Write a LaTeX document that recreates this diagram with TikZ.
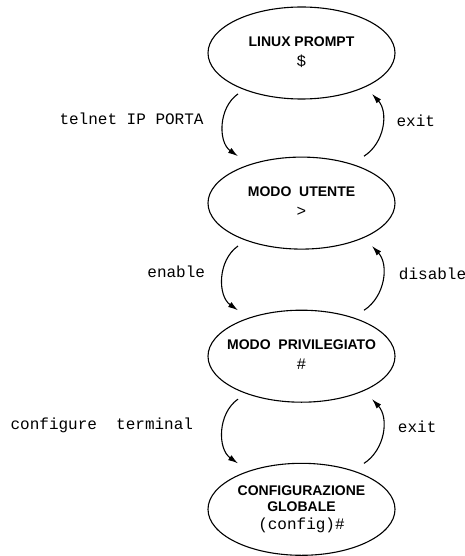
\documentclass[tikz,border=0pt]{standalone}
\usepackage{fontspec}
\setmainfont{Liberation Sans}
\setmonofont{Liberation Mono}
\usetikzlibrary{positioning,shapes.geometric,arrows.meta}
\newcommand*{\statetext}[3][4pt]{\makebox[0pt]{\begin{tabular}{@{}c@{}}#2\\[#1]\normalfont\ttfamily\fontsize{16}{18}\selectfont #3\end{tabular}}}

\begin{document}
\begin{tikzpicture}[
  state/.style={draw, ellipse, line width=1.1pt, minimum width=187pt, minimum height=92pt, inner sep=0pt, font=\fontsize{14}{16}\selectfont\bfseries},
  arc/.style={line width=1.1pt, -{Latex[length=10pt,width=6pt]}},
  lbl/.style={inner sep=0pt, yshift=6pt, font=\ttfamily\fontsize{16}{18}\selectfont}
]
\useasboundingbox (0pt,0pt) rectangle (465pt,-556pt);

\node (lp) [state] at (301.5pt,-53pt) {\statetext{LINUX PROMPT}{\$}};
\node (ut) [state, below=57pt of lp] {\statetext{MODO\ \ UTENTE}{>}};
\node (priv) [state, below=60pt of ut] {\statetext{MODO\ \ PRIVILEGIATO}{\#}};
\node (conf) [state, below=60pt of priv] {\statetext[2pt]{CONFIGURAZIONE\\GLOBALE}{(config)\#}};

% discesa
\draw[arc] ([shift={(3pt,-8pt)}]lp.south west) to[bend right=55] node[lbl, left=19pt] {telnet IP PORTA} ([shift={(3pt,14pt)}]ut.north west);
\draw[arc] ([shift={(3pt,-10pt)}]ut.south west) to[bend right=55] node[lbl, left=17pt] {enable} ([shift={(3pt,13pt)}]priv.north west);
\draw[arc] ([shift={(3pt,-10pt)}]priv.south west) to[bend right=55] node[lbl, left=29pt] {configure\ \ terminal} ([shift={(3pt,13pt)}]conf.north west);

% risalita
\draw[arc] ([shift={(-4pt,14pt)}]ut.north east) to[bend right=50] node[lbl, right=14pt] {exit} ([shift={(4pt,-8pt)}]lp.south east);
\draw[arc] ([shift={(-4pt,13pt)}]priv.north east) to[bend right=50] node[lbl, right=16pt] {disable} ([shift={(4pt,-10pt)}]ut.south east);
\draw[arc] ([shift={(-4pt,13pt)}]conf.north east) to[bend right=50] node[lbl, right=15pt] {exit} ([shift={(4pt,-10pt)}]priv.south east);
\end{tikzpicture}
\end{document}
